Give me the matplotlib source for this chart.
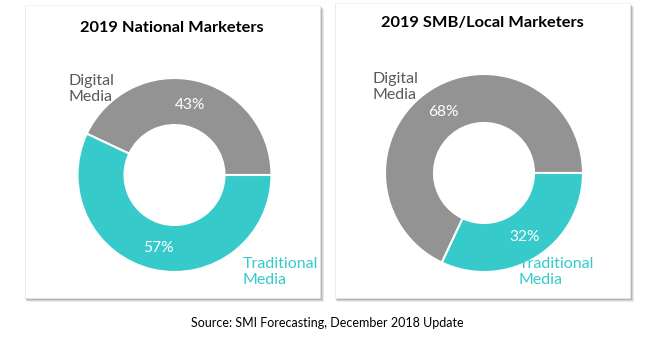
import matplotlib
matplotlib.use("Agg")
import matplotlib.pyplot as plt
from matplotlib.patches import Rectangle

plt.rcParams['font.family'] = ['Lato', 'DejaVu Sans']

categories = ["Digital\nMedia", "Traditional\nMedia"]
national_values = [43, 57]
local_values = [68, 32]
titles = ["2019 National Marketers", "2019 SMB/Local Marketers"]
source_text = "Source: SMI Forecasting, December 2018 Update"

colors = ["#939393", "#36CACA"]
label_colors = ["#595959", "#36CACA"]

W, H = 645, 339
fig = plt.figure(figsize=(W / 100, H / 100), dpi=100)
ax = fig.add_axes([0, 0, 1, 1])

def Y(y):
    return H - y

# panels (x0, top, x1, bottom) in pixels
panels = [(25, 5, 320, 298), (335, 3, 630, 298)]
for (x0, t, x1, b) in panels:
    for i, a in enumerate([0.08, 0.10, 0.14, 0.20]):
        off = 4 - i
        ax.add_patch(Rectangle((x0 + off * 0.4, Y(b) - off), x1 - x0 + off * 0.6, b - t,
                               facecolor="black", alpha=a, edgecolor="none", zorder=1))
    ax.add_patch(Rectangle((x0, Y(b)), x1 - x0, b - t, facecolor="white",
                           edgecolor="#eeeeee", linewidth=0.5, zorder=2))

specs = [
    dict(values=national_values, center=(174.5, 175), r=97, w=47, title=titles[0], tx=172, ty=28,
         pct_pos=[(190, 105), (158, 248)],
         lab_pos=[(68, 89), (243, 272)]),
    dict(values=local_values, center=(484, 173), r=99, w=49, title=titles[1], tx=482, ty=23,
         pct_pos=[(443, 112), (525, 237)],
         lab_pos=[(372, 87), (519, 272)]),
]

for s in specs:
    wedges, _ = ax.pie(s["values"], colors=colors, startangle=0, counterclock=True,
                       center=(s["center"][0], Y(s["center"][1])), radius=s["r"],
                       wedgeprops=dict(width=s["w"], edgecolor="white", linewidth=1.5))
    for wdg in wedges:
        wdg.set_zorder(3)
    ax.text(s["tx"], Y(s["ty"]), s["title"], ha="center", va="center", fontsize=11.8,
            fontweight="bold", color="black", zorder=5)
    for v, (px, py) in zip(s["values"], s["pct_pos"]):
        ax.text(px, Y(py), f"{v}%", ha="center", va="center", fontsize=11.2,
                color="white", zorder=5)
    for cat, c, (lx, ly) in zip(categories, label_colors, s["lab_pos"]):
        ax.text(lx, Y(ly), cat, ha="left", va="center", fontsize=11.5, color=c,
                linespacing=1.25, zorder=5)

ax.text(327, Y(323), source_text, ha="center", va="center", fontsize=9, color="black")

ax.set_xlim(0, W)
ax.set_ylim(0, H)
ax.set_aspect("equal", adjustable="box")
ax.axis("off")

fig.savefig("out.png", dpi=100, facecolor="white")
